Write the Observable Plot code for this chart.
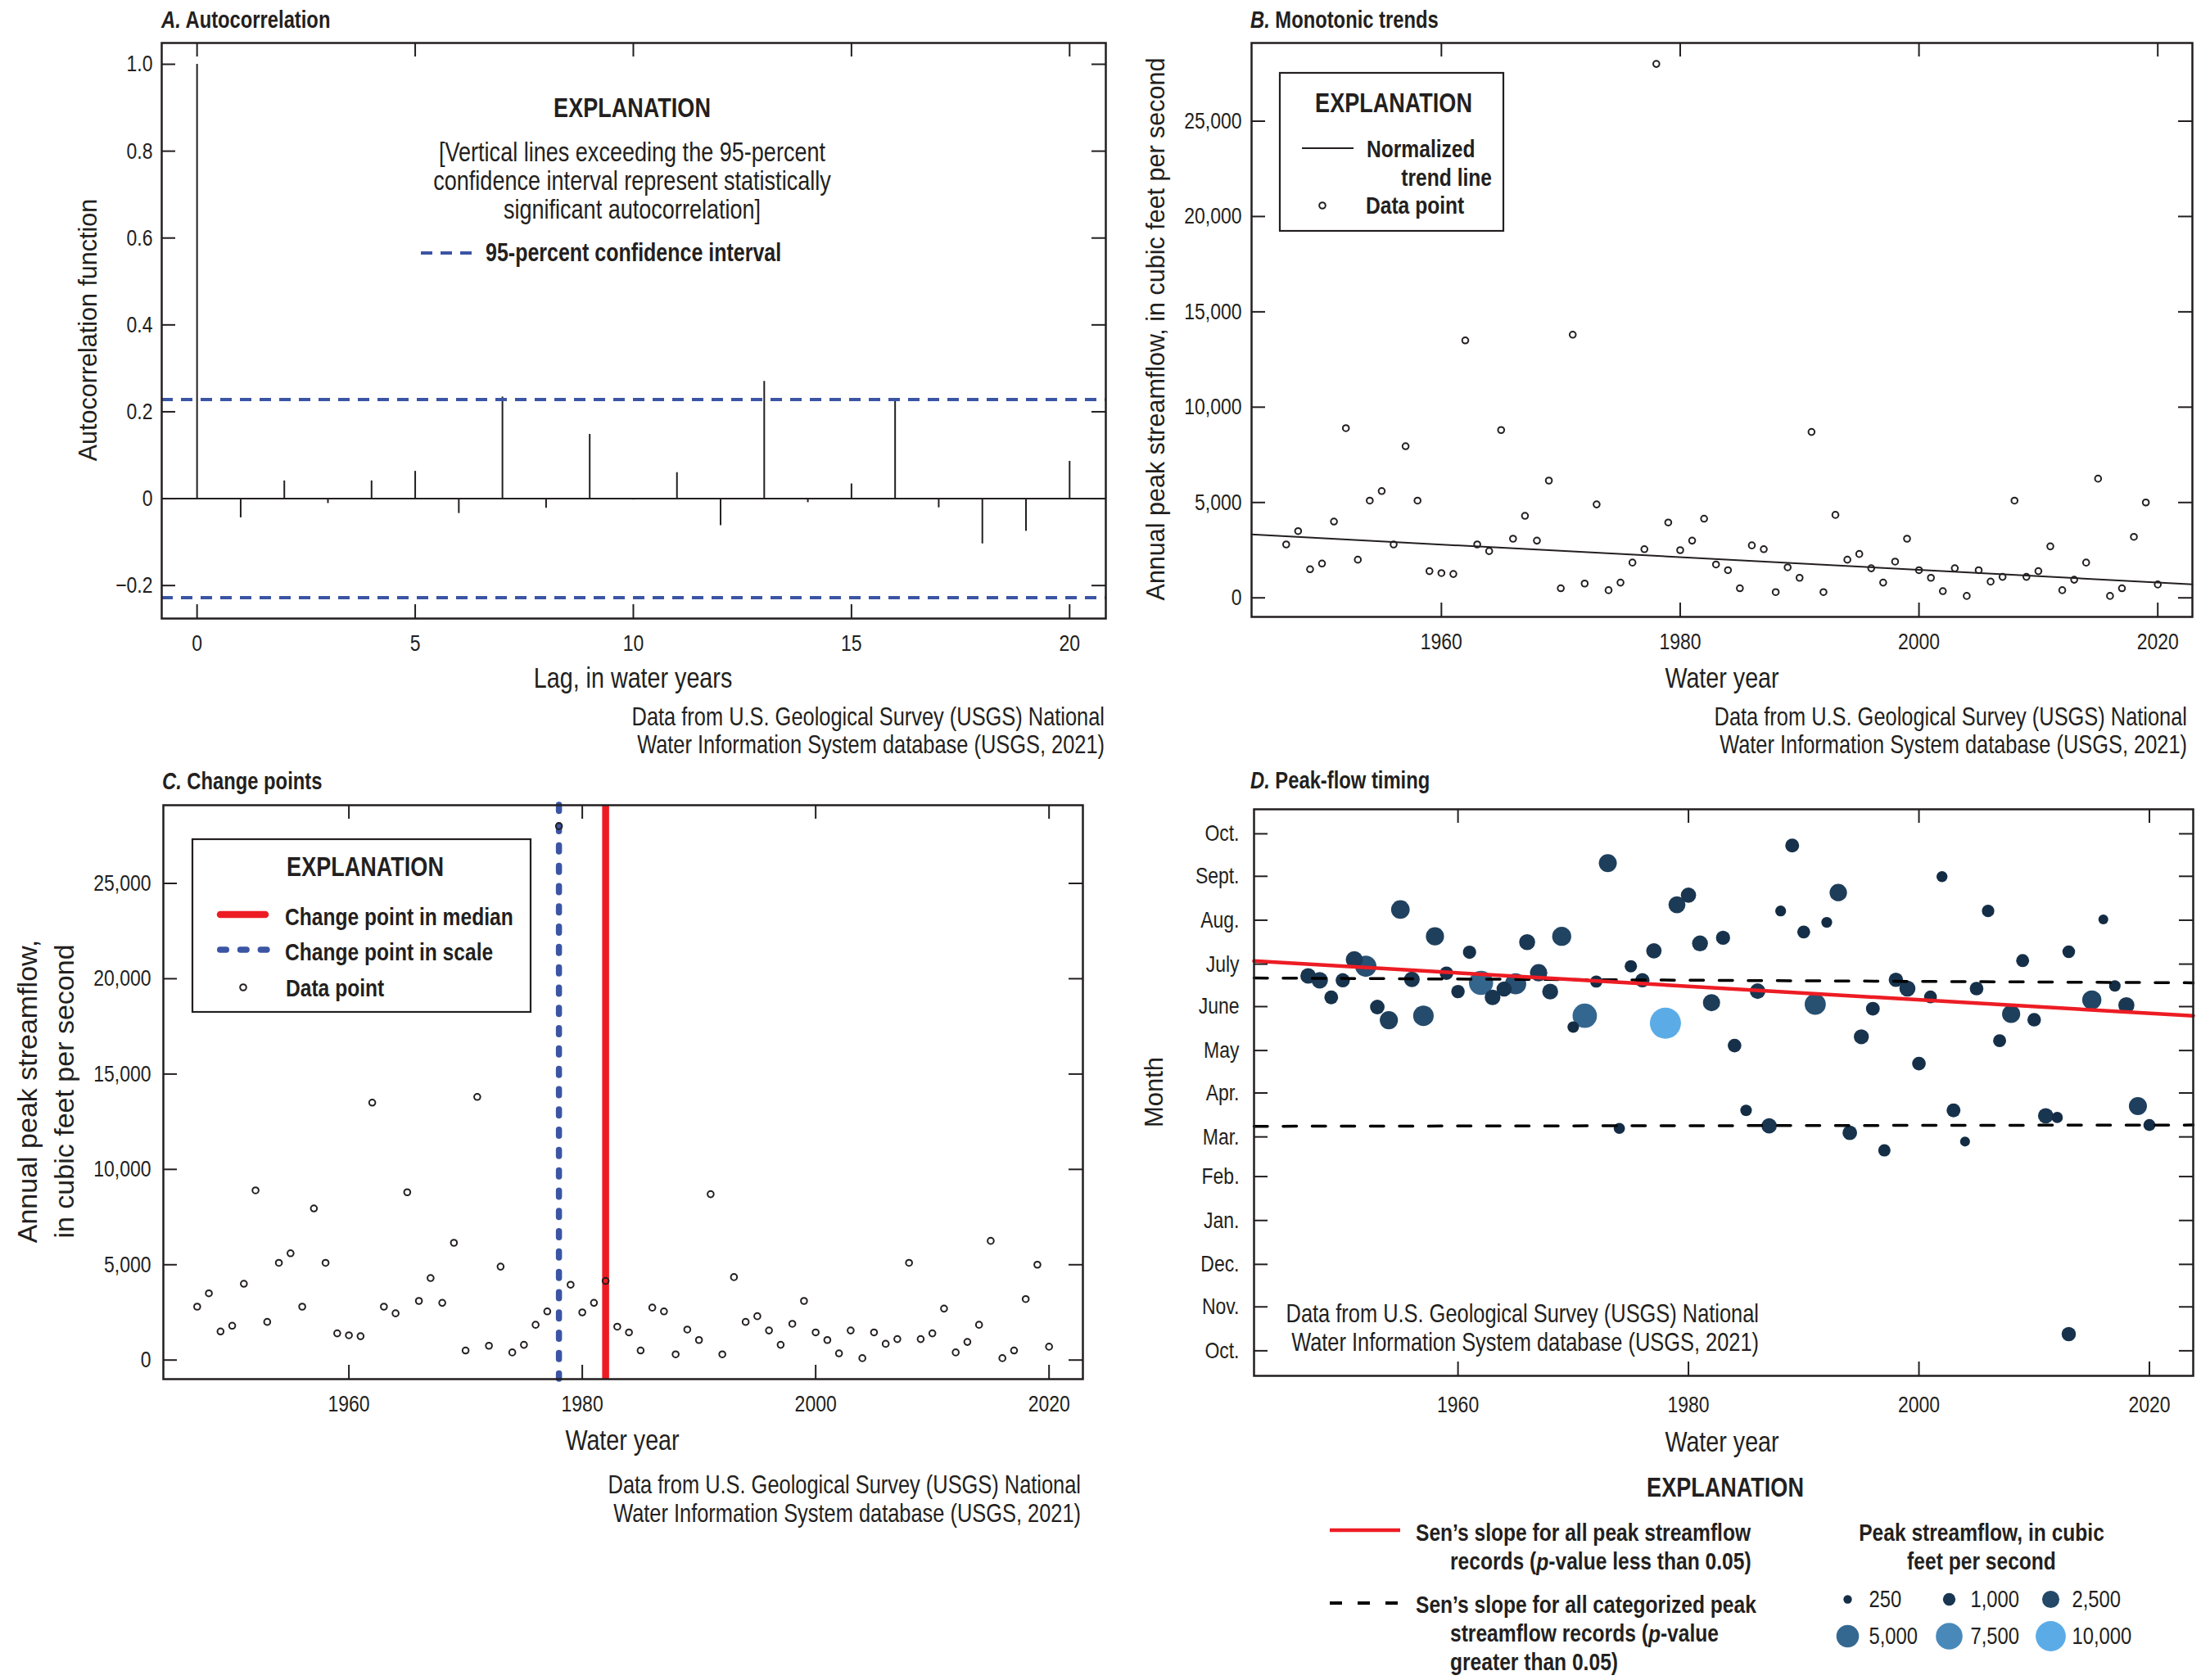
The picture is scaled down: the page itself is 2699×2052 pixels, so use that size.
<!DOCTYPE html>
<html><head><meta charset="utf-8">
<script src="https://cdn.jsdelivr.net/npm/d3@7"></script>
<script src="https://cdn.jsdelivr.net/npm/@observablehq/plot@0.6"></script>
<style>
html,body{margin:0;padding:0;background:#fff;}
#page{position:relative;width:2699px;height:2052px;overflow:hidden;background:#fff;}
.panel{position:absolute;}
.panel svg{overflow:visible;max-width:none;}
#overlay{position:absolute;left:0;top:0;pointer-events:none;}
</style></head><body><div id="page"></div>
<script>
// ---------------- DATA ----------------
const acfLag = [0,1,2,3,4,5,6,7,8,9,10,11,12,13,14,15,16,17,18,19,20];
const acfValue = [1.0,-0.044,0.041,-0.011,0.041,0.063,-0.034,0.234,-0.022,0.148,-0.003,0.06,-0.062,0.27,-0.009,0.034,0.229,-0.021,-0.104,-0.075,0.086];
const ciBounds = [0.228,-0.228];
const acfTicksY = [-0.2,0,0.2,0.4,0.6,0.8,1.0];
const acfTicksX = [0,5,10,15,20];

const waterYear = [1947,1948,1949,1950,1951,1952,1953,1954,1955,1956,1957,1958,1959,1960,1961,1962,1963,1964,1965,1966,1967,1968,1969,1970,1971,1972,1973,1974,1975,1976,1977,1978,1979,1980,1981,1982,1983,1984,1985,1986,1987,1988,1989,1990,1991,1992,1993,1994,1995,1996,1997,1998,1999,2000,2001,2002,2003,2004,2005,2006,2007,2008,2009,2010,2011,2012,2013,2014,2015,2016,2017,2018,2019,2020];
const peakFlow = [2800,3500,1500,1800,4000,8900,2000,5100,5600,2800,7950,5100,1400,1300,1250,13500,2800,2450,8800,3100,4300,3000,6150,500,13800,750,4900,400,800,1850,2550,28000,3950,2500,3000,4150,1750,1450,500,2750,2550,300,1600,1050,8700,300,4350,2000,2300,1550,800,1900,3100,1450,1050,350,1550,100,1450,850,1100,5100,1100,1400,2700,400,950,1850,6250,100,500,3200,5000,700];
const flowTicks = [0,5000,10000,15000,20000,25000];
const yearTicks = [1960,1980,2000,2020];

const trendYear = [1944.1, 2022.9];
const trendFlow = [3325, 705];

const changeScaleYear = [1978];
const changeMedianYear = [1982];

const timingYear = [1947,1948,1949,1950,1951,1952,1953,1954,1955,1956,1957,1958,1959,1960,1961,1962,1963,1964,1965,1966,1967,1968,1969,1970,1971,1972,1973,1974,1975,1976,1977,1978,1979,1980,1981,1982,1983,1984,1985,1986,1987,1988,1989,1990,1991,1992,1993,1994,1995,1996,1997,1998,1999,2000,2001,2002,2003,2004,2005,2006,2007,2008,2009,2010,2011,2012,2013,2013,2015,2016,2017,2018,2019,2020];
const timingDay = [264.7,261.6,249.5,261.6,276.2,271.5,242.7,233.4,311.5,262.2,236.5,292.6,266.6,253.6,281.4,259.8,249.5,255.4,259.1,288.5,266.9,253.6,292.6,228.5,236.5,260.7,344.3,157,271.5,261.6,282.4,231.3,314.9,321.7,287.6,245.8,291.6,215.5,169.7,253.9,158.8,310.5,356.7,295.7,244.6,302.5,323.5,153.9,221.7,241.5,141.5,261.9,255.7,202.8,249.8,334.7,169.7,147.7,255.7,310.5,218.9,237.8,275.5,233.7,165.9,164.7,281.7,11.8,247.7,304.6,257.6,244,172.8,159.4];
const timingFlow = [2800,3500,1500,1800,4000,8900,2000,5100,5600,2800,7950,5100,1400,1300,1250,13500,2800,2450,8800,3100,4300,3000,6150,500,13800,750,4900,400,800,1850,2550,28000,3950,2500,3000,4150,1750,1450,500,2750,2550,300,1600,1050,8700,300,4350,2000,2300,1550,800,1900,3100,1450,1050,350,1550,100,1450,850,1100,5100,1100,1400,2700,400,950,1850,6250,100,500,3200,5000,700];

const senYear = [1942.3, 2023.8];
const senAllDay = [275.2, 236.5];
const senCatUpperDay = [263.2, 259.8];
const senCatLowerDay = [158.5, 159.4];

const monthLabels = ["Oct.","Nov.","Dec.","Jan.","Feb.","Mar.","Apr.","May","June","July","Aug.","Sept.","Oct."];
const monthStartDay = [0,31,61,92,123,151,182,212,243,273,304,335,365];

const legendFlow = [250,1000,2500,5000,7500,10000];

// ---------------- STYLE ----------------
const SANS = "'Liberation Sans',Arial,Helvetica,sans-serif";
const NARROW_SCALE = 0.82;   // emulate a condensed face (Arial Narrow ~ 82% of Arial)
const INK = "#231f20", BLUE = "#3B55A4", RED = "#ED1C24";
const LOW = "#132B43", HIGH = "#5BACE6";
const STYLE = `font-family:${SANS};font-size:28px;color:${INK};background:transparent;overflow:visible;max-width:none;`;

const page = document.getElementById("page");
function narrowify(svg) {
  svg.querySelectorAll("text").forEach(t => {
    const L = t.getComputedTextLength();
    if (L > 0) {
      t.setAttribute("textLength", (L * NARROW_SCALE).toFixed(2));
      t.setAttribute("lengthAdjust", "spacingAndGlyphs");
    }
  });
}
function addPlot(left, top, options) {
  const wrap = document.createElement("div");
  wrap.className = "panel";
  wrap.style.left = left + "px";
  wrap.style.top = top + "px";
  const svg = Plot.plot(options);
  wrap.appendChild(svg);
  page.appendChild(wrap);
  narrowify(svg);
}
function frameTicks(xt, yt, fw, fh, len = 17) {
  return [
    Plot.tickX(xt, {x: d => d, insetTop: fh - len, stroke: INK, strokeWidth: 2}),
    Plot.tickX(xt, {x: d => d, insetBottom: fh - len, stroke: INK, strokeWidth: 2}),
    Plot.tickY(yt, {y: d => d, insetRight: fw - len, stroke: INK, strokeWidth: 2}),
    Plot.tickY(yt, {y: d => d, insetLeft: fw - len, stroke: INK, strokeWidth: 2})
  ];
}
const comma = d3.format(",");

// ---------- Panel A ----------
addPlot(0, 0, {
  width: 1360, height: 800, marginTop: 52, marginBottom: 45, marginLeft: 197, marginRight: 10,
  style: STYLE,
  x: {domain: [-0.81, 20.83]},
  y: {domain: [-0.276, 1.049]},
  marks: [
    Plot.ruleY([0], {stroke: INK, strokeWidth: 2}),
    Plot.ruleX(acfLag, {x: acfLag, y: acfValue, stroke: INK, strokeWidth: 2}),
    Plot.ruleY(ciBounds, {y: ciBounds, stroke: BLUE, strokeWidth: 4, strokeDasharray: "14,10"}),
    Plot.axisY(acfTicksY, {tickSize: 0, tickPadding: 11, fontSize: 28, label: null, fill: INK,
      tickFormat: d => d === 0 ? "0" : d3.format(".1f")(d).replace("-", "\u2212")}),
    Plot.axisX(acfTicksX, {tickSize: 0, tickPadding: 20, fontSize: 28, label: null, fill: INK, tickFormat: d => String(d)}),
    ...frameTicks(acfTicksX, acfTicksY, 1153, 703),
    Plot.frame({stroke: INK, strokeWidth: 2.5})
  ]
});

// ---------- Panel B ----------
addPlot(1360, 0, {
  width: 1339, height: 800, marginTop: 52, marginBottom: 47, marginLeft: 168, marginRight: 22,
  style: STYLE,
  x: {domain: [1944.1, 2022.9]},
  y: {domain: [-1000, 29100]},
  marks: [
    Plot.line(trendYear, {x: trendYear, y: trendFlow, stroke: INK, strokeWidth: 2}),
    Plot.dot(waterYear, {x: waterYear, y: peakFlow, r: 3.8, stroke: INK, strokeWidth: 2, fill: "none"}),
    Plot.axisY(flowTicks, {tickSize: 0, tickPadding: 12, fontSize: 28, label: null, fill: INK, tickFormat: comma}),
    Plot.axisX(yearTicks, {tickSize: 0, tickPadding: 20, fontSize: 28, label: null, fill: INK, tickFormat: d => String(d)}),
    ...frameTicks(yearTicks, flowTicks, 1149, 701),
    Plot.frame({stroke: INK, strokeWidth: 2.5})
  ]
});

// ---------- Panel C ----------
addPlot(0, 920, {
  width: 1360, height: 800, marginTop: 63, marginBottom: 36, marginLeft: 199, marginRight: 38,
  style: STYLE,
  x: {domain: [1944.1, 2022.9]},
  y: {domain: [-1000, 29100]},
  marks: [
    Plot.ruleX(changeScaleYear, {x: d => d, stroke: BLUE, strokeWidth: 7.5, strokeDasharray: "7.5,17.3", strokeLinecap: "round"}),
    Plot.ruleX(changeMedianYear, {x: d => d, stroke: RED, strokeWidth: 8.5}),
    Plot.dot(waterYear, {x: waterYear, y: peakFlow, r: 3.8, stroke: INK, strokeWidth: 2, fill: "none"}),
    Plot.axisY(flowTicks, {tickSize: 0, tickPadding: 15, fontSize: 28, label: null, fill: INK, tickFormat: comma}),
    Plot.axisX(yearTicks, {tickSize: 0, tickPadding: 20, fontSize: 28, label: null, fill: INK, tickFormat: d => String(d)}),
    ...frameTicks(yearTicks, flowTicks, 1123, 701),
    Plot.frame({stroke: INK, strokeWidth: 2.5})
  ]
});

// ---------- Panel D ----------
addPlot(1380, 960, {
  width: 1319, height: 760, marginTop: 28, marginBottom: 40, marginLeft: 151, marginRight: 21,
  style: STYLE,
  x: {domain: [1942.3, 2023.8]},
  y: {domain: [-17.7, 382.3]},
  r: {type: "sqrt", domain: [0, 28000], range: [5.2, 19]},
  color: {type: "linear", domain: [100, 28000], range: [LOW, HIGH], interpolate: d3.interpolateLab},
  marks: [
    Plot.dot(timingYear, {x: timingYear, y: timingDay, r: timingFlow, fill: timingFlow}),
    Plot.line(senYear, {x: senYear, y: senCatUpperDay, stroke: "#000", strokeWidth: 3.5, strokeDasharray: "16.5,19"}),
    Plot.line(senYear, {x: senYear, y: senCatLowerDay, stroke: "#000", strokeWidth: 3.5, strokeDasharray: "16.5,19"}),
    Plot.line(senYear, {x: senYear, y: senAllDay, stroke: RED, strokeWidth: 4.5}),
    Plot.axisY(monthStartDay, {tickSize: 0, tickPadding: 18, fontSize: 28, label: null, fill: INK,
      tickFormat: d => monthLabels[monthStartDay.indexOf(d)]}),
    Plot.axisX(yearTicks, {tickSize: 0, tickPadding: 25, fontSize: 28, label: null, fill: INK, tickFormat: d => String(d)}),
    ...frameTicks(yearTicks, monthStartDay, 1147, 692),
    Plot.frame({stroke: INK, strokeWidth: 2.5})
  ]
});

// ---------- Size legend (panel D) ----------
addPlot(2200, 1920, {
  width: 400, height: 110, margin: 0,
  style: STYLE,
  x: {domain: [0, 2], range: [56, 304], axis: null},
  y: {domain: [0, 1], range: [33, 78], axis: null},
  r: {type: "sqrt", domain: [0, 10000], range: [2.7, 18.4]},
  color: {type: "linear", domain: [0, 10000], range: [LOW, HIGH], interpolate: d3.interpolateLab},
  marks: [
    Plot.dot(legendFlow, {x: (d, i) => i % 3, y: (d, i) => Math.floor(i / 3), r: d => d, fill: d => d}),
    Plot.text(legendFlow, {x: (d, i) => i % 3, y: (d, i) => Math.floor(i / 3), text: d => comma(d),
      dx: 26, textAnchor: "start", fontSize: 29, fill: INK})
  ]
});

// ---------- Overlay text & explanation boxes ----------
const ov = d3.select(page).append("svg").attr("id", "overlay").attr("width", 2699).attr("height", 2052);
function txt(x, y, html, o = {}) {
  const wide = !!o.wide;
  const tf = `translate(${x},${y})` + (o.rotate ? ` rotate(${o.rotate})` : "") + (wide ? "" : ` scale(${NARROW_SCALE},1)`);
  return ov.append("text").attr("transform", tf)
    .attr("font-family", SANS).attr("font-size", o.size || 31)
    .attr("font-weight", o.weight || "normal").attr("text-anchor", o.anchor || "start")
    .attr("dominant-baseline", "central").attr("fill", INK).html(html);
}
function line(x1, y1, x2, y2, o = {}) {
  ov.append("line").attr("x1", x1).attr("y1", y1).attr("x2", x2).attr("y2", y2)
    .attr("stroke", o.stroke || INK).attr("stroke-width", o.width || 2)
    .attr("stroke-dasharray", o.dash || null).attr("stroke-linecap", o.cap || "butt");
}
function box(x, y, w, h) {
  ov.append("rect").attr("x", x).attr("y", y).attr("width", w).attr("height", h)
    .attr("fill", "white").attr("stroke", INK).attr("stroke-width", 2.2);
}
function ring(x, y) {
  ov.append("circle").attr("cx", x).attr("cy", y).attr("r", 3.8).attr("fill", "none")
    .attr("stroke", INK).attr("stroke-width", 2);
}

// titles
txt(197, 24, '<tspan font-style="italic">A.</tspan> Autocorrelation', {size: 29, weight: "bold"});
txt(1527, 24, '<tspan font-style="italic">B.</tspan> Monotonic trends', {size: 29, weight: "bold"});
txt(198, 954, '<tspan font-style="italic">C.</tspan> Change points', {size: 29, weight: "bold"});
txt(1527, 953, '<tspan font-style="italic">D.</tspan> Peak-flow timing', {size: 29, weight: "bold"});

// axis titles
txt(107, 403, "Autocorrelation function", {wide: true, size: 30.5, anchor: "middle", rotate: -90});
txt(773, 828, "Lag, in water years", {size: 35, anchor: "middle"});
txt(1411, 402, "Annual peak streamflow, in cubic feet per second", {wide: true, size: 30.5, anchor: "middle", rotate: -90});
txt(2103, 828, "Water year", {size: 35, anchor: "middle"});
txt(33, 1333, "Annual peak streamflow,", {wide: true, size: 34, anchor: "middle", rotate: -90});
txt(78, 1333, "in cubic feet per second", {wide: true, size: 34, anchor: "middle", rotate: -90});
txt(760, 1759, "Water year", {size: 35, anchor: "middle"});
txt(1409, 1334, "Month", {wide: true, size: 31, anchor: "middle", rotate: -90});
txt(2103, 1761, "Water year", {size: 35, anchor: "middle"});

// captions
const cap1 = "Data from U.S. Geological Survey (USGS) National";
const cap2 = "Water Information System database (USGS, 2021)";
txt(1349, 875, cap1, {anchor: "end"}); txt(1349, 909, cap2, {anchor: "end"});
txt(2671, 875, cap1, {anchor: "end"}); txt(2671, 909, cap2, {anchor: "end"});
txt(1320, 1813, cap1, {anchor: "end"}); txt(1320, 1848, cap2, {anchor: "end"});
txt(2148, 1604, cap1, {anchor: "end"}); txt(2148, 1639, cap2, {anchor: "end"});

// Panel A explanation
txt(772, 132, "EXPLANATION", {size: 33, weight: "bold", anchor: "middle"});
txt(772, 186, "[Vertical lines exceeding the 95-percent", {size: 33, anchor: "middle"});
txt(772, 221, "confidence interval represent statistically", {size: 33, anchor: "middle"});
txt(772, 256, "significant autocorrelation]", {size: 33, anchor: "middle"});
line(514, 309, 577, 309, {stroke: BLUE, width: 4, dash: "14,10"});
txt(593, 309, "95-percent confidence interval", {size: 30.5, weight: "bold"});

// Panel B explanation
box(1563, 89, 273, 193);
txt(1702, 126, "EXPLANATION", {size: 33, weight: "bold", anchor: "middle"});
line(1590, 181, 1653, 181, {width: 2});
txt(1669, 182, "Normalized", {size: 30, weight: "bold"});
txt(1822, 217, "trend line", {size: 30, weight: "bold", anchor: "end"});
ring(1615, 251);
txt(1668, 251, "Data point", {size: 30, weight: "bold"});

// Panel C explanation
box(235, 1025, 413, 211);
txt(446, 1059, "EXPLANATION", {size: 33, weight: "bold", anchor: "middle"});
line(269, 1117, 324, 1117, {stroke: RED, width: 8.5, cap: "round"});
txt(348, 1120, "Change point in median", {size: 30, weight: "bold"});
line(268.75, 1160, 330, 1160, {stroke: BLUE, width: 7.5, cap: "round", dash: "7.5,17.3"});
txt(348, 1163, "Change point in scale", {size: 30, weight: "bold"});
ring(297, 1206);
txt(349, 1207, "Data point", {size: 30, weight: "bold"});

// Panel D explanation (below)
txt(2107, 1817, "EXPLANATION", {size: 33, weight: "bold", anchor: "middle"});
line(1624, 1869, 1710, 1869, {stroke: RED, width: 4.5});
txt(1729, 1872, "Sen\u2019s slope for all peak streamflow", {size: 30, weight: "bold"});
txt(1771, 1907, 'records (<tspan font-style="italic">p</tspan>-value less than 0.05)', {size: 30, weight: "bold"});
line(1624, 1958, 1710, 1958, {stroke: "#000", width: 4, dash: "15,19"});
txt(1729, 1960, "Sen\u2019s slope for all categorized peak", {size: 30, weight: "bold"});
txt(1771, 1995, 'streamflow records (<tspan font-style="italic">p</tspan>-value', {size: 30, weight: "bold"});
txt(1771, 2030, "greater than 0.05)", {size: 30, weight: "bold"});
txt(2420, 1872, "Peak streamflow, in cubic", {size: 30, weight: "bold", anchor: "middle"});
txt(2420, 1907, "feet per second", {size: 30, weight: "bold", anchor: "middle"});
</script></body></html>
